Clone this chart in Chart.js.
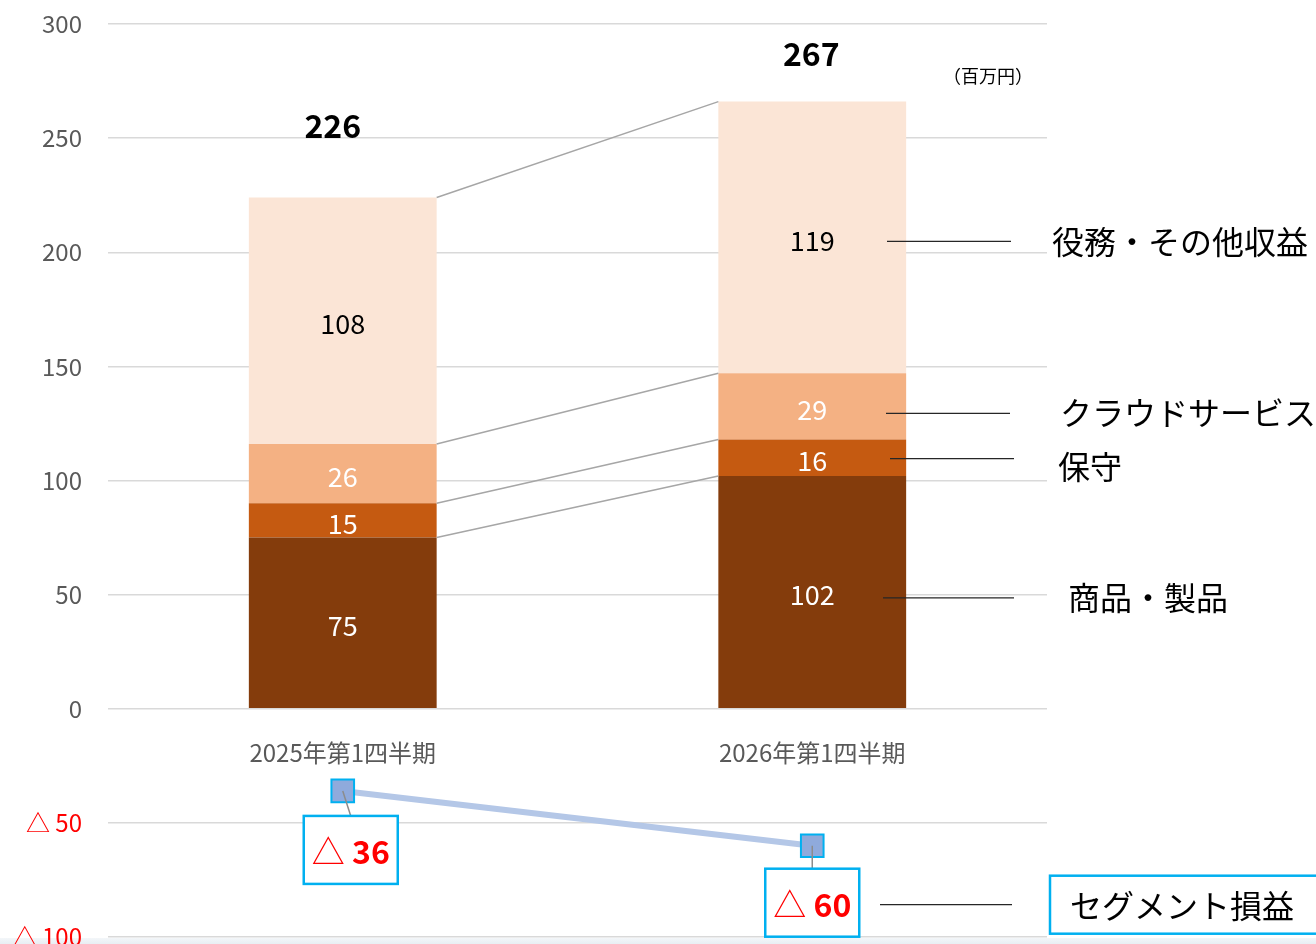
<!DOCTYPE html>
<html>
<head>
<meta charset="utf-8">
<script src="https://cdn.jsdelivr.net/npm/chart.js@4/dist/chart.umd.min.js"></script>
<style>
  html, body { margin: 0; padding: 0; background: #fff; overflow: hidden; }
  #wrap { position: relative; width: 1316px; height: 944px; overflow: hidden; }
  #band { position: absolute; left: 0; right: 0; top: 938px; height: 6px;
          background: linear-gradient(to bottom, #f3f6f9, #e8eef3); }
  canvas { position: absolute; left: 0; top: 0; }
</style>
</head>
<body>
<div id="wrap">
  <div id="band"></div>
  <canvas id="c" width="1316" height="955"></canvas>
</div>
<script>
// ---- data ----
const categories = ['2025年第1四半期', '2026年第1四半期'];
const productSales = [75, 102];      // 商品・製品
const maintenance = [15, 16];        // 保守
const cloudServices = [26, 29];      // クラウドサービス
const servicesOther = [108, 119];    // 役務・その他収益
const segmentProfit = [-36, -60];    // セグメント損益
const totals = [226, 267];
const seriesNames = ['商品・製品', '保守', 'クラウドサービス', '役務・その他収益'];
const segmentName = 'セグメント損益';
const unitLabel = '（百万円）';
const yMin = -100, yMax = 300, yStep = 50;

const FONT = "'Noto Sans CJK JP', 'Noto Sans', sans-serif";
Chart.defaults.font.family = FONT;

const barColors = ['#843C0C', '#C55A11', '#F4B183', '#FBE5D6'];
const segLabelColors = ['#FFFFFF', '#FFFFFF', '#FFFFFF', '#000000'];
const barSeries = [productSales, maintenance, cloudServices, servicesOther];

const fmtNeg = v => (v < 0 ? '△ ' + Math.abs(v) : String(v));

const annotPlugin = {
  id: 'annot',
  afterDatasetsDraw(chart) {
    const { ctx, scales: { y } } = chart;
    const metas = barSeries.map((_, i) => chart.getDatasetMeta(i));
    ctx.save();

    // connector lines between bars
    ctx.strokeStyle = '#A6A6A6';
    ctx.lineWidth = 1.5;
    metas.forEach(m => {
      const a = m.data[0], b = m.data[1];
      ctx.beginPath();
      ctx.moveTo(a.x + a.width / 2, a.y);
      ctx.lineTo(b.x - b.width / 2, b.y);
      ctx.stroke();
    });

    // segment value labels
    ctx.textAlign = 'center';
    ctx.textBaseline = 'middle';
    ctx.font = '27px ' + FONT;
    metas.forEach((m, i) => {
      ctx.fillStyle = segLabelColors[i];
      m.data.forEach((el, j) => {
        ctx.fillText(String(barSeries[i][j]), el.x, (el.y + el.base) / 2 + 3);
      });
    });

    // totals
    ctx.fillStyle = '#000';
    ctx.font = 'bold 32px ' + FONT;
    const totalOffsets = [[-10, -67], [-1, -45]];
    const top = metas[3];
    top.data.forEach((el, j) => {
      ctx.fillText(String(totals[j]), el.x + totalOffsets[j][0], y.getPixelForValue(totals[j]) + totalOffsets[j][1]);
    });

    // unit label
    ctx.font = '18px ' + FONT;
    ctx.textAlign = 'left';
    ctx.fillText(unitLabel, 943, 76);

    // right-side series labels with leader lines (anchored on 2026 bar segments)
    const labelLayout = [
      { line: [883, 1014], dy: 6, tx: 1068, tdy: 6 },   // 商品・製品
      { line: [890, 1014], dy: 1, tx: 1058, tdy: 9 },   // 保守
      { line: [886, 1010], dy: 7, tx: 1060, tdy: 7 },   // クラウドサービス
      { line: [887, 1011], dy: 4, tx: 1052, tdy: 4 }    // 役務・その他収益
    ];
    ctx.font = '32px ' + FONT;
    ctx.strokeStyle = '#262626';
    ctx.lineWidth = 1.3;
    metas.forEach((m, i) => {
      const el = m.data[1];
      const cy = (el.y + el.base) / 2;
      const L = labelLayout[i];
      ctx.beginPath();
      ctx.moveTo(L.line[0], cy + L.dy);
      ctx.lineTo(L.line[1], cy + L.dy);
      ctx.stroke();
      ctx.fillStyle = '#000';
      ctx.textBaseline = 'middle';
      ctx.fillText(seriesNames[i], L.tx, cy + L.tdy);
    });

    // segment profit labels
    const lm = chart.getDatasetMeta(4);
    const boxOffsets = [[8, 59], [0, 57]];
    lm.data.forEach((pt, j) => {
      const bw = 94, bh = 68;
      const cx = pt.x + boxOffsets[j][0], cy = pt.y + boxOffsets[j][1];
      ctx.strokeStyle = '#8C8C8C';
      ctx.lineWidth = 1.5;
      ctx.beginPath();
      ctx.moveTo(pt.x, pt.y);
      ctx.lineTo(cx, cy - bh / 2);
      ctx.stroke();
      ctx.fillStyle = '#FFFFFF';
      ctx.fillRect(cx - bw / 2, cy - bh / 2, bw, bh);
      ctx.strokeStyle = '#00B0F0';
      ctx.lineWidth = 2.5;
      ctx.strokeRect(cx - bw / 2, cy - bh / 2, bw, bh);
      const v = Math.abs(segmentProfit[j]);
      ctx.font = '33px ' + FONT;
      const triW = ctx.measureText('△').width;
      ctx.font = 'bold 32px ' + FONT;
      const numTxt = ' ' + v;
      const numW = ctx.measureText(numTxt).width;
      const startX = cx - (triW + numW) / 2;
      ctx.fillStyle = '#FF0000';
      ctx.textAlign = 'left';
      ctx.textBaseline = 'middle';
      ctx.font = '33px ' + FONT;
      ctx.fillText('△', startX, cy + 2);
      ctx.font = 'bold 32px ' + FONT;
      ctx.fillText(numTxt, startX + triW, cy + 2);
    });

    // segment profit legend box
    const lastPt = lm.data[1];
    const legY = lastPt.y + 59;
    ctx.strokeStyle = '#262626';
    ctx.lineWidth = 1.3;
    ctx.beginPath();
    ctx.moveTo(880, legY);
    ctx.lineTo(1012, legY);
    ctx.stroke();
    ctx.fillStyle = '#FFFFFF';
    ctx.fillRect(1050, legY - 29, 280, 58);
    ctx.strokeStyle = '#00B0F0';
    ctx.lineWidth = 2.5;
    ctx.strokeRect(1050, legY - 29, 280, 58);
    ctx.fillStyle = '#000';
    ctx.font = '32px ' + FONT;
    ctx.textAlign = 'left';
    ctx.fillText(segmentName, 1070, legY + 1);

    ctx.restore();
  }
};

const datasets = barSeries.map((arr, i) => ({
  type: 'bar',
  label: seriesNames[i],
  data: arr,
  backgroundColor: barColors[i],
  borderWidth: 0,
  stack: 'sales',
  order: 2,
  barPercentage: 0.4,
  categoryPercentage: 1.0
}));
datasets.push({
  type: 'line',
  label: segmentName,
  data: segmentProfit,
  borderColor: '#B4C7E7',
  borderWidth: 6,
  pointStyle: 'rect',
  pointRadius: 16,
  pointBackgroundColor: '#8FAADC',
  pointBorderColor: '#00B0F0',
  pointBorderWidth: 2,
  stack: 'profit',
  order: 1,
  tension: 0
});

new Chart(document.getElementById('c'), {
  data: { labels: categories, datasets },
  options: {
    responsive: false,
    animation: false,
    devicePixelRatio: 1,
    layout: { padding: { top: 24, bottom: 8, left: 0, right: 269 } },
    plugins: { legend: { display: false }, tooltip: { enabled: false } },
    scales: {
      x: {
        stacked: true,
        position: { y: 0 },
        grid: { display: false },
        border: { display: false },
        ticks: { color: '#595959', font: { size: 24 }, padding: 22 }
      },
      y: {
        stacked: true,
        min: yMin,
        max: yMax,
        grid: { color: '#D9D9D9', lineWidth: 1.5, drawTicks: false },
        border: { display: false },
        ticks: {
          stepSize: yStep,
          padding: 26,
          font: { size: 24 },
          color: c => (c.tick && c.tick.value < 0 ? '#FF0000' : '#595959'),
          callback: v => fmtNeg(v)
        },
        afterFit(s) { s.width = 108; s.paddingTop = 0; s.paddingBottom = 0; }
      }
    }
  },
  plugins: [annotPlugin]
});
</script>
</body>
</html>
